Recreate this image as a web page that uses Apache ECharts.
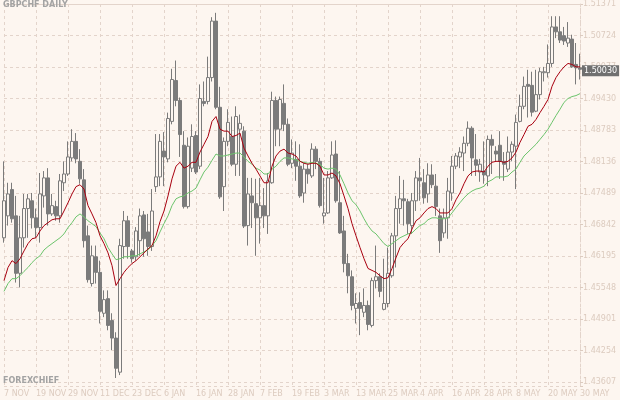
<!DOCTYPE html>
<html>
<head>
<meta charset="utf-8">
<script src="https://cdn.jsdelivr.net/npm/echarts@6/dist/echarts.min.js"></script>
<style>
html,body{margin:0;padding:0;background:#fdf6f0;}
#chart{width:620px;height:400px;}
</style>
</head>
<body>
<div id="chart"></div>
<script>
const dates = [
'7 NOV','8 NOV','11 NOV','12 NOV','13 NOV','14 NOV','15 NOV','18 NOV','19 NOV','20 NOV','21 NOV','22 NOV','25 NOV','26 NOV','27 NOV','28 NOV','29 NOV',
'2 DEC','3 DEC','4 DEC','5 DEC','6 DEC','9 DEC','10 DEC','11 DEC','12 DEC','13 DEC','16 DEC','17 DEC','18 DEC','19 DEC','20 DEC','23 DEC','24 DEC','26 DEC','27 DEC','30 DEC','31 DEC',
'2 JAN','3 JAN','6 JAN','7 JAN','8 JAN','9 JAN','10 JAN','13 JAN','14 JAN','15 JAN','16 JAN','17 JAN','20 JAN','21 JAN','22 JAN','23 JAN','24 JAN','27 JAN','28 JAN','29 JAN','30 JAN','31 JAN',
'3 FEB','4 FEB','5 FEB','6 FEB','7 FEB','10 FEB','11 FEB','12 FEB','13 FEB','14 FEB','17 FEB','18 FEB','19 FEB','20 FEB','21 FEB','24 FEB','25 FEB','26 FEB','27 FEB','28 FEB',
'3 MAR','4 MAR','5 MAR','6 MAR','7 MAR','10 MAR','11 MAR','12 MAR','13 MAR','14 MAR','17 MAR','18 MAR','19 MAR','20 MAR','21 MAR','24 MAR','25 MAR','26 MAR','27 MAR','28 MAR','31 MAR',
'1 APR','2 APR','3 APR','4 APR','7 APR','8 APR','9 APR','10 APR','11 APR','14 APR','15 APR','16 APR','17 APR','18 APR','21 APR','22 APR','23 APR','24 APR','25 APR','28 APR','29 APR','30 APR',
'1 MAY','2 MAY','5 MAY','6 MAY','7 MAY','8 MAY','9 MAY','12 MAY','13 MAY','14 MAY','15 MAY','16 MAY','19 MAY','20 MAY','21 MAY','22 MAY','23 MAY','26 MAY','27 MAY','28 MAY','29 MAY','30 MAY'
];

const opens = [
1.4657,1.4702,1.4756,1.4702,1.4584,1.4657,1.4717,1.4733,1.4698,1.4678,
1.4743,1.4780,1.4706,1.4721,1.4702,1.4770,1.4788,1.4821,1.4855,1.4814,
1.4776,1.4661,1.4563,1.4618,1.4586,1.4502,1.4532,1.4487,1.4451,1.4381,
1.4639,1.4692,1.4630,1.4618,1.4651,1.4704,1.4669,1.4639,1.4762,1.4782,
1.4835,1.4819,1.4896,1.4980,1.4939,1.4847,1.4721,1.4800,1.4867,1.4804,
1.4937,1.4937,1.4986,1.5102,1.4925,1.4762,1.4855,1.4865,1.4808,1.4880,
1.4876,1.4682,1.4743,1.4727,1.4698,1.4723,1.4702,1.4770,1.4939,1.4880,
1.4933,1.4890,1.4810,1.4818,1.4804,1.4749,1.4798,1.4784,1.4839,1.4814,
1.4702,1.4708,1.4780,1.4829,1.4729,1.4671,1.4604,1.4577,1.4512,1.4524,
1.4504,1.4518,1.4477,1.4569,1.4577,1.4510,1.4522,1.4579,1.4661,1.4717,
1.4737,1.4731,1.4682,1.4733,1.4780,1.4770,1.4747,1.4786,1.4763,1.4702,
1.4667,1.4698,1.4749,1.4804,1.4823,1.4831,1.4851,1.4882,1.4817,1.4792,
1.4794,1.4784,1.4859,1.4835,1.4847,1.4814,1.4798,1.4833,1.4845,1.4896,
1.4927,1.4972,1.4970,1.4917,1.4951,1.4996,1.4996,1.5015,1.5090,1.5080,
1.5072,1.5057,1.5065,1.5013,1.5006
];
const closes = [
1.4733,1.4747,1.4696,1.4584,1.4657,1.4717,1.4737,1.4698,1.4678,1.4747,
1.4780,1.4706,1.4723,1.4702,1.4774,1.4788,1.4823,1.4855,1.4819,1.4778,
1.4651,1.4571,1.4620,1.4586,1.4506,1.4530,1.4477,1.4451,1.4389,1.4641,
1.4692,1.4639,1.4614,1.4671,1.4702,1.4655,1.4639,1.4712,1.4782,1.4855,
1.4823,1.4902,1.4982,1.4939,1.4869,1.4721,1.4845,1.4865,1.4792,1.4943,
1.4933,1.4986,1.5102,1.4925,1.4741,1.4855,1.4894,1.4808,1.4906,1.4892,
1.4681,1.4747,1.4729,1.4698,1.4723,1.4702,1.4774,1.4939,1.4880,1.4941,
1.4890,1.4808,1.4831,1.4804,1.4743,1.4798,1.4788,1.4839,1.4814,1.4723,
1.4708,1.4780,1.4827,1.4733,1.4667,1.4604,1.4579,1.4518,1.4522,1.4512,
1.4518,1.4479,1.4569,1.4577,1.4547,1.4522,1.4584,1.4661,1.4717,1.4737,
1.4733,1.4686,1.4733,1.4780,1.4774,1.4739,1.4786,1.4766,1.4721,1.4651,
1.4698,1.4753,1.4804,1.4825,1.4833,1.4851,1.4882,1.4821,1.4806,1.4808,
1.4786,1.4859,1.4847,1.4829,1.4814,1.4808,1.4833,1.4849,1.4894,1.4927,
1.4968,1.4968,1.4915,1.4951,1.4998,1.4998,1.5015,1.5090,1.5080,1.5063,
1.5061,1.5067,1.5008,1.5006,1.5003
];
const lows = [
1.4647,1.4682,1.4688,1.4565,1.4555,1.4637,1.4657,1.4676,1.4657,1.4647,
1.4719,1.4682,1.4702,1.4692,1.4688,1.4753,1.4784,1.4814,1.4810,1.4768,
1.4637,1.4565,1.4557,1.4563,1.4481,1.4494,1.4467,1.4426,1.4369,1.4375,
1.4614,1.4614,1.4606,1.4610,1.4620,1.4618,1.4620,1.4630,1.4751,1.4763,
1.4763,1.4812,1.4890,1.4927,1.4823,1.4717,1.4717,1.4792,1.4788,1.4798,
1.4927,1.4931,1.4978,1.4921,1.4737,1.4712,1.4845,1.4804,1.4784,1.4784,
1.4677,1.4641,1.4677,1.4620,1.4645,1.4677,1.4665,1.4768,1.4845,1.4845,
1.4876,1.4804,1.4800,1.4774,1.4739,1.4729,1.4768,1.4780,1.4798,1.4719,
1.4686,1.4706,1.4778,1.4729,1.4665,1.4586,1.4543,1.4508,1.4481,1.4457,
1.4494,1.4467,1.4473,1.4553,1.4535,1.4508,1.4514,1.4575,1.4596,1.4686,
1.4682,1.4665,1.4665,1.4712,1.4733,1.4727,1.4729,1.4759,1.4702,1.4626,
1.4657,1.4655,1.4733,1.4798,1.4800,1.4794,1.4845,1.4784,1.4784,1.4772,
1.4768,1.4763,1.4788,1.4814,1.4778,1.4774,1.4792,1.4814,1.4757,1.4894,
1.4921,1.4904,1.4906,1.4915,1.4941,1.4978,1.4986,1.5008,1.5067,1.5057,
1.5053,1.5049,1.5006,1.4972,1.4982
];
const highs = [
1.4814,1.4770,1.4770,1.4743,1.4702,1.4747,1.4747,1.4749,1.4717,1.4790,
1.4794,1.4800,1.4747,1.4733,1.4788,1.4814,1.4855,1.4880,1.4872,1.4839,
1.4798,1.4682,1.4641,1.4641,1.4610,1.4549,1.4549,1.4502,1.4463,1.4655,
1.4712,1.4702,1.4634,1.4679,1.4717,1.4712,1.4706,1.4757,1.4870,1.4870,
1.4874,1.4914,1.5004,1.5021,1.4945,1.4876,1.4863,1.4890,1.4876,1.4972,
1.4978,1.5029,1.5110,1.5119,1.4967,1.4863,1.4921,1.4906,1.4927,1.4910,
1.4886,1.4780,1.4780,1.4778,1.4780,1.4759,1.4790,1.4957,1.4947,1.4947,
1.4972,1.4902,1.4859,1.4855,1.4849,1.4810,1.4808,1.4851,1.4845,1.4821,
1.4780,1.4794,1.4855,1.4857,1.4794,1.4702,1.4624,1.4590,1.4543,1.4545,
1.4553,1.4528,1.4575,1.4641,1.4584,1.4614,1.4637,1.4667,1.4743,1.4784,
1.4776,1.4737,1.4749,1.4794,1.4821,1.4798,1.4810,1.4808,1.4788,1.4717,
1.4717,1.4780,1.4825,1.4831,1.4843,1.4865,1.4896,1.4886,1.4870,1.4819,
1.4855,1.4867,1.4869,1.4845,1.4876,1.4833,1.4865,1.4855,1.4910,1.4951,
1.4988,1.5002,1.4998,1.5002,1.5006,1.5008,1.5054,1.5112,1.5112,1.5112,
1.5090,1.5100,1.5074,1.5057,1.5035
];
const maFast = [
1.4569,1.4596,1.4610,1.4604,1.4614,1.4630,1.4645,1.4655,1.4657,1.4671,
1.4682,1.4688,1.4694,1.4696,1.4696,1.4712,1.4729,1.4747,1.4762,1.4766,
1.4757,1.4723,1.4706,1.4688,1.4661,1.4645,1.4626,1.4600,1.4559,1.4573,
1.4586,1.4596,1.4604,1.4610,1.4618,1.4626,1.4634,1.4641,1.4661,1.4690,
1.4712,1.4743,1.4778,1.4804,1.4812,1.4800,1.4804,1.4812,1.4812,1.4833,
1.4849,1.4865,1.4896,1.4906,1.4880,1.4876,1.4876,1.4865,1.4867,1.4872,
1.4841,1.4825,1.4810,1.4798,1.4784,1.4770,1.4770,1.4804,1.4825,1.4835,
1.4839,1.4831,1.4829,1.4825,1.4814,1.4810,1.4808,1.4810,1.4810,1.4804,
1.4786,1.4786,1.4790,1.4784,1.4768,1.4743,1.4717,1.4686,1.4661,1.4637,
1.4614,1.4594,1.4590,1.4586,1.4579,1.4573,1.4575,1.4594,1.4616,1.4637,
1.4647,1.4655,1.4675,1.4692,1.4698,1.4708,1.4717,1.4721,1.4717,1.4708,
1.4708,1.4708,1.4717,1.4735,1.4749,1.4768,1.4784,1.4792,1.4794,1.4794,
1.4792,1.4804,1.4812,1.4814,1.4814,1.4812,1.4814,1.4821,1.4833,1.4853,
1.4869,1.4886,1.4890,1.4900,1.4914,1.4927,1.4941,1.4968,1.4986,1.4998,
1.5008,1.5015,1.5013,1.5008,1.5008
];
const maSlow = [
1.4547,1.4563,1.4573,1.4573,1.4579,1.4588,1.4596,1.4606,1.4614,1.4620,
1.4632,1.4639,1.4645,1.4651,1.4657,1.4665,1.4678,1.4688,1.4700,1.4706,
1.4700,1.4692,1.4686,1.4680,1.4667,1.4655,1.4637,1.4624,1.4612,1.4614,
1.4618,1.4618,1.4620,1.4620,1.4624,1.4628,1.4632,1.4641,1.4651,1.4669,
1.4686,1.4702,1.4723,1.4737,1.4741,1.4743,1.4749,1.4753,1.4759,1.4776,
1.4792,1.4802,1.4816,1.4829,1.4825,1.4825,1.4827,1.4829,1.4831,1.4831,
1.4823,1.4814,1.4808,1.4800,1.4796,1.4788,1.4788,1.4798,1.4804,1.4814,
1.4821,1.4821,1.4819,1.4817,1.4814,1.4812,1.4810,1.4812,1.4810,1.4808,
1.4800,1.4798,1.4800,1.4798,1.4786,1.4768,1.4749,1.4733,1.4725,1.4712,
1.4696,1.4682,1.4671,1.4665,1.4655,1.4645,1.4639,1.4645,1.4651,1.4657,
1.4661,1.4665,1.4667,1.4675,1.4682,1.4686,1.4694,1.4698,1.4698,1.4696,
1.4696,1.4698,1.4708,1.4719,1.4729,1.4739,1.4747,1.4753,1.4757,1.4759,
1.4763,1.4772,1.4776,1.4782,1.4782,1.4782,1.4784,1.4792,1.4798,1.4812,
1.4825,1.4833,1.4841,1.4849,1.4859,1.4869,1.4880,1.4894,1.4908,1.4921,
1.4935,1.4943,1.4947,1.4949,1.4953
];
const yTickLabels = ['1.51371','1.50724','1.50077','1.49430','1.48783','1.48136','1.47489','1.46842','1.46195','1.45548','1.44901','1.44254','1.43607'];
const priceTop = 1.51371;
const priceBottom = 1.43526;
const title = 'GBPCHF DAILY';
const brand = 'FOREXCHIEF';

const BG = '#fdf6f0';
const GRID = '#e3d4cb';
const LABEL = '#dccbbf';
const CANDLE = '#7b7b7b';
const FONT = '"Liberation Sans Narrow", "DejaVu Sans", sans-serif';

const candles = opens.map((o, i) => [o, closes[i], lows[i], highs[i]]);
const lastClose = closes[closes.length - 1];
const stepsToBottom = (priceTop - priceBottom) / ((priceTop - 1.43607) / 12);

const chart = echarts.init(document.getElementById('chart'), null, {renderer: 'canvas'});
chart.setOption({
  backgroundColor: BG,
  animation: false,
  title: [
    {text: title, left: 3, top: 1, padding: 0, textStyle: {fontFamily: FONT, fontSize: 8, fontWeight: 'bold', color: '#a3a3a3'}},
    {text: brand, left: 3, top: 377, padding: 0, textStyle: {fontFamily: FONT, fontSize: 8, fontWeight: 'bold', color: '#a3a3a3'}}
  ],
  grid: {left: 4, right: 40, top: 2, bottom: 14, containLabel: false},
  xAxis: {
    type: 'category', data: dates, boundaryGap: false,
    axisLine: {show: true, lineStyle: {color: GRID, width: 1}},
    axisTick: {show: true, interval: 7, length: 3, lineStyle: {color: GRID}},
    axisLabel: {interval: 7, align: 'left', margin: 4, color: LABEL, fontFamily: FONT, fontSize: 8, showMaxLabel: true},
    splitLine: {show: true, interval: 7, lineStyle: {color: GRID, type: [3, 3], width: 1}}
  },
  yAxis: [
    {type: 'value', min: priceBottom, max: priceTop, show: false, splitLine: {show: false}},
    {type: 'value', position: 'right', inverse: true, min: 0, max: stepsToBottom, interval: 1,
     axisLine: {show: true, lineStyle: {color: GRID, type: [2, 2]}},
     axisTick: {show: true, length: 3, lineStyle: {color: LABEL}},
     axisLabel: {margin: 3, color: LABEL, fontFamily: FONT, fontSize: 8,
       formatter: v => (Number.isInteger(v) && yTickLabels[v]) ? yTickLabels[v] : ''},
     splitLine: {show: true, lineStyle: {color: GRID, type: [3, 3], width: 1}}
    }
  ],
  series: [
    {
      type: 'candlestick', yAxisIndex: 0, data: candles, barWidth: 3,
      itemStyle: {color: BG, color0: CANDLE, borderColor: CANDLE, borderColor0: CANDLE, borderWidth: 1},
      markLine: {
        silent: true, symbol: 'none', z: 10,
        lineStyle: {color: 'rgba(0,0,0,0)', width: 0},
        label: {show: true, position: 'end', distance: 2, formatter: () => lastClose.toFixed(5),
          color: '#ffffff', backgroundColor: '#707070', padding: [2, 2, 1, 2], fontFamily: FONT, fontSize: 8, opacity: 1},
        emphasis: {disabled: true},
        data: [{yAxis: lastClose}]
      }
    },
    {type: 'line', yAxisIndex: 0, data: maSlow, symbol: 'none', lineStyle: {color: '#6cc46c', width: 1}},
    {type: 'line', yAxisIndex: 0, data: maFast, symbol: 'none', lineStyle: {color: '#a8000f', width: 1}}
  ]
});
</script>
</body>
</html>
